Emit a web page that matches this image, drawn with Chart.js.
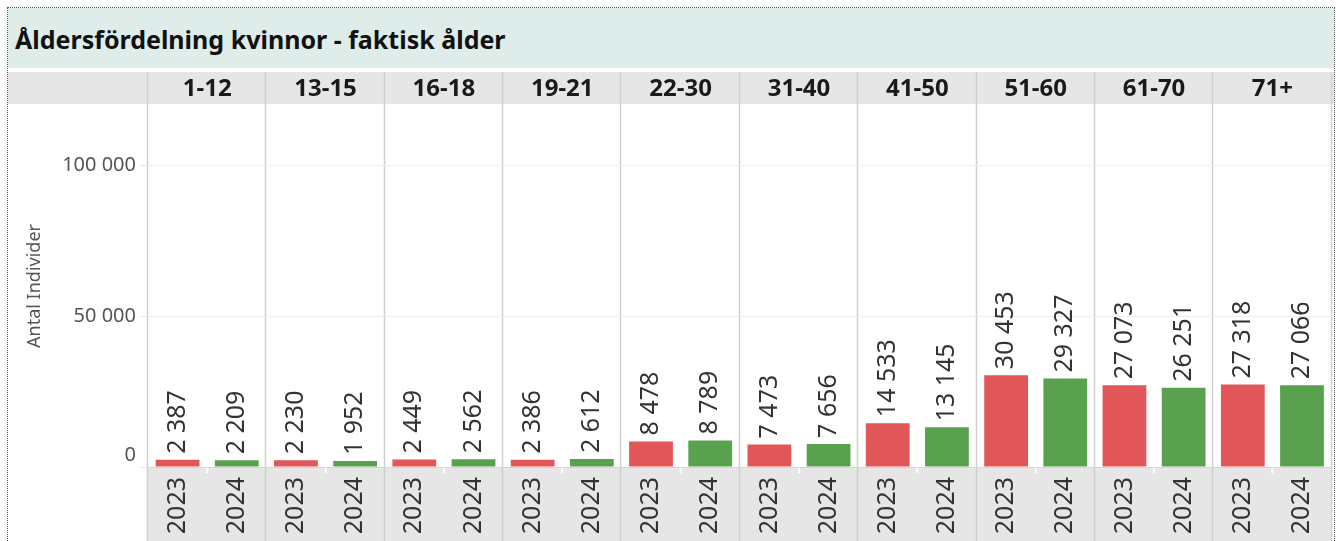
<!DOCTYPE html>
<html>
<head>
<meta charset="utf-8">
<script src="https://cdn.jsdelivr.net/npm/chart.js@4.4.0/dist/chart.umd.min.js"></script>
<style>
  html, body { margin: 0; padding: 0; background: #fff; overflow: hidden; width: 1336px; height: 541px; }
  #frame { position: absolute; left: 7px; top: 7px; width: 1326px; height: 600px; border: 1px dotted #555; }
  #title { position: absolute; left: 8px; top: 8px; width: 1326px; height: 60px; background: #deecea;
           font: bold 25px "Noto Sans", sans-serif; color: #111; line-height: 62px; padding-left: 7px; box-sizing: border-box; }
  #wrap { position: absolute; left: 8px; top: 70px; width: 1326px; height: 500px; }
</style>
</head>
<body>
<div id="frame"></div>
<div id="title">Åldersfördelning kvinnor - faktisk ålder</div>
<div id="wrap"><canvas id="chart" width="1326" height="500"></canvas></div>
<script>
// --- données ---
const groups = ['1-12', '13-15', '16-18', '19-21', '22-30', '31-40', '41-50', '51-60', '61-70', '71+'];
const years = ['2023', '2024'];
const values2023 = [2387, 2230, 2449, 2386, 8478, 7473, 14533, 30453, 27073, 27318];
const values2024 = [2209, 1952, 2562, 2612, 8789, 7656, 13145, 29327, 26251, 27066];
const yTicks = [0, 50000, 100000];

const RED = '#e15759';
const GREEN = '#59a14f';
const FONT = '"Noto Sans", sans-serif';

// séparateur de milliers avec espace
const fmt = v => String(v).replace(/\B(?=(\d{3})+(?!\d))/g, ' ');

// une barre par année et par groupe
const labels = [], values = [], colors = [];
groups.forEach((g, i) => {
    labels.push(years[0], years[1]);
    values.push(values2023[i], values2024[i]);
    colors.push(RED, GREEN);
});

const panels = {
    id: 'panels',
    beforeDraw(chart) {
        const { ctx, chartArea: a, width, height } = chart;
        const slot = (a.right - a.left) / groups.length;
        ctx.save();
        // bande d'en-tête
        ctx.fillStyle = '#e6e6e6';
        ctx.fillRect(0, 2, width, 32);
        // zone des années
        ctx.fillRect(a.left, a.bottom, a.right - a.left, height - a.bottom);
        // séparateurs verticaux
        ctx.strokeStyle = '#d0d0d0';
        ctx.lineWidth = 1.5;
        for (let i = 0; i <= groups.length; i++) {
            const x = Math.round(a.left + i * slot) - 0.5;
            ctx.beginPath();
            ctx.moveTo(x, 2);
            ctx.lineTo(x, height);
            ctx.stroke();
        }
        // petites marques blanches entre 2023 et 2024
        ctx.strokeStyle = '#fff';
        ctx.lineWidth = 2;
        for (let i = 0; i < groups.length; i++) {
            const x = a.left + (i + 0.5) * slot;
            ctx.beginPath();
            ctx.moveTo(x, a.bottom + 1);
            ctx.lineTo(x, a.bottom + 6);
            ctx.stroke();
        }
        // libellés des groupes
        ctx.fillStyle = '#1a1a1a';
        ctx.font = 'bold 24px ' + FONT;
        ctx.textAlign = 'center';
        ctx.textBaseline = 'middle';
        groups.forEach((g, i) => ctx.fillText(g, a.left + (i + 0.5) * slot, 19));
        ctx.restore();
    },
    afterDatasetsDraw(chart) {
        const { ctx } = chart;
        const meta = chart.getDatasetMeta(0);
        ctx.save();
        ctx.fillStyle = '#333';
        ctx.font = '25px ' + FONT;
        ctx.textAlign = 'left';
        ctx.textBaseline = 'middle';
        meta.data.forEach((bar, i) => {
            ctx.save();
            ctx.translate(bar.x, bar.y - 6);
            ctx.rotate(-Math.PI / 2);
            ctx.fillText(fmt(values[i]), 0, 0);
            ctx.restore();
        });
        ctx.restore();
    }
};

new Chart(document.getElementById('chart'), {
    type: 'bar',
    data: {
        labels,
        datasets: [{
            data: values,
            backgroundColor: colors,
            barPercentage: 0.74,
            categoryPercentage: 1,
        }]
    },
    options: {
        responsive: false,
        animation: false,
        layout: { padding: { top: 35, right: 0, left: 0, bottom: 0 } },
        scales: {
            x: {
                grid: { display: false },
                border: { display: false },
                ticks: {
                    autoSkip: false,
                    maxRotation: 90, minRotation: 90,
                    padding: 2,
                    color: '#333',
                    font: { size: 25, family: FONT },
                },
                afterFit: s => { s.height = 103; },
            },
            y: {
                min: 0, max: 120000,
                afterBuildTicks: s => { s.ticks = yTicks.map(v => ({ value: v })); },
                grid: {
                    color: ctx => ctx.tick && ctx.tick.value === 0 ? '#d6d6d6' : '#eeeeee',
                    tickLength: 8,
                    tickColor: '#e6e6e6',
                },
                border: { display: false },
                ticks: {
                    padding: 4,
                    color: '#555',
                    font: { size: 20, family: FONT },
                    // le zéro est remonté au-dessus de la ligne de base
                    callback: v => v === 0 ? ['0', ''] : fmt(v),
                },
                title: {
                    display: true,
                    text: 'Antal Individer',
                    color: '#555',
                    font: { size: 18, family: FONT },
                    padding: { top: 16, bottom: 0 },
                },
                afterFit: s => { s.width = 140; },
            }
        },
        plugins: {
            legend: { display: false },
            tooltip: { enabled: false },
        }
    },
    plugins: [panels]
});
</script>
</body>
</html>
